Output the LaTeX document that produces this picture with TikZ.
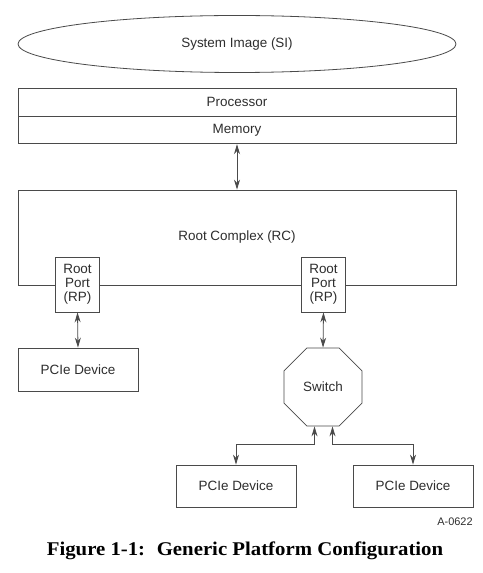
\documentclass[tikz,border=0pt]{standalone}
\usepackage{fontspec}
\setmainfont{Liberation Sans}
\newfontfamily\capfont[FakeStretch=1.07]{Liberation Serif}
\usetikzlibrary{shapes.geometric,arrows.meta}
\definecolor{linegray}{HTML}{4A4A4A}
\definecolor{textgray}{HTML}{2E2E2E}

\begin{document}
\begin{tikzpicture}[x=1bp, y=-1bp, line width=0.8bp, color=linegray, text=textgray,
	box/.style={draw, fill=white, rectangle, inner sep=0pt, font=\fontsize{13.5}{14}\selectfont},
	port/.style={box, align=center, minimum width=44bp, minimum height=55bp},
	device/.style={box, minimum width=120bp, minimum height=43bp},
	link/.style={{Stealth[length=10bp,width=6bp]}-{Stealth[length=10bp,width=6bp]}}]
	\useasboundingbox (0,0) rectangle (483,573);
	
	%host side
	\node[box, ellipse, minimum width=438bp, minimum height=57bp] (si) at (237,44) {System Image (SI)};
	\node[box, minimum width=438bp, minimum height=28bp] (proc) at (237,102) {Processor};
	\node[box, minimum width=438bp, minimum height=27bp, anchor=north] (mem) at (proc.south) {Memory};
	
	%root complex and its ports
	\node[box, minimum width=438bp, minimum height=95bp] (rc) at (237,237.5) {Root Complex (RC)};
	\node[port] (rpL) at (77.5,284.5) {Root\\Port\\(RP)};
	\node[port] (rpR) at (323.5,284.5) {Root\\Port\\(RP)};
	\draw[link] (mem.south) -- (rc.north);
	
	%devices and switch
	\node[device] (devA) at (78,369.5) {PCIe Device};
	\node[box, regular polygon, regular polygon sides=8, minimum size=84.4bp] (sw) at (323,387) {Switch};
	\node[device, minimum height=42bp] (devB) at (236,486) {PCIe Device};
	\node[device, minimum height=42bp] (devC) at (413,486) {PCIe Device};
	\draw[link] (rpL.south) -- (devA.north);
	\draw[link] (rpR.south) -- (sw.north);
	\draw[link] ([xshift=-8.5bp]sw.south) -- ++(0,18) -| (devB.north);
	\draw[link] ([xshift=9.5bp]sw.south) -- ++(0,18) -| (devC.north);
	
	%figure id and caption
	\node[font=\fontsize{11}{12}\selectfont] (figid) at (455,522) {A-0622};
	\node[font=\capfont\bfseries\fontsize{19.5}{22}\selectfont, text=black] (caption) at (245,551) {Figure 1-1:\hspace{0.6em}Generic Platform Configuration};
\end{tikzpicture}
\end{document}
